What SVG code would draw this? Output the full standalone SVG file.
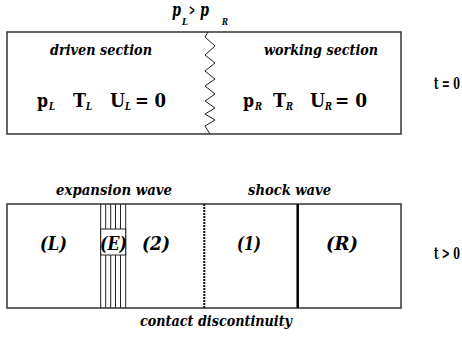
<svg xmlns="http://www.w3.org/2000/svg" width="462" height="338" viewBox="0 0 462 338">
<style>
.box{fill:#fff;stroke:#333;stroke-width:1.5}
text{font-family:'DejaVu Serif', 'Liberation Serif', 'Times New Roman', serif;font-weight:bold;fill:#000}
.i{font-style:italic}
.ln{stroke:#222;stroke-width:1}
</style>
<rect width="462" height="338" fill="#fff"/>
<g id="title">
<text class="i" x="172" y="16" font-size="18" textLength="9" lengthAdjust="spacingAndGlyphs">p</text>
<text class="i" x="182" y="25" font-size="10" textLength="6" lengthAdjust="spacingAndGlyphs">L</text>
<text x="189" y="15" font-size="14" textLength="6" lengthAdjust="spacingAndGlyphs">&gt;</text>
<text class="i" x="200" y="16" font-size="18" textLength="9" lengthAdjust="spacingAndGlyphs">p</text>
<text class="i" x="222" y="25" font-size="10" textLength="6" lengthAdjust="spacingAndGlyphs">R</text>
</g>
<g id="tube-t0">
<rect class="box" x="7" y="32" width="394" height="102"/>
<polyline fill="none" stroke="#222" stroke-width="1" points="208,32 205,37 215,46 205,55 215,63 205,71 215,79 205,86 215,94 205,101 215,108 205,114 215,120 205,126 210,134"/>
</g>
<g id="driven">
<text class="i" x="50" y="55" font-size="15" textLength="102" lengthAdjust="spacingAndGlyphs">driven section</text>
<text x="37" y="107" font-size="18" textLength="11" lengthAdjust="spacingAndGlyphs">p</text>
<text class="i" x="49" y="110" font-size="11" textLength="6" lengthAdjust="spacingAndGlyphs">L</text>
<text x="73" y="107" font-size="18" textLength="13" lengthAdjust="spacingAndGlyphs">T</text>
<text class="i" x="86" y="110" font-size="11" textLength="6" lengthAdjust="spacingAndGlyphs">L</text>
<text x="110" y="107" font-size="18" textLength="15" lengthAdjust="spacingAndGlyphs">U</text>
<text class="i" x="125" y="110" font-size="11" textLength="6" lengthAdjust="spacingAndGlyphs">L</text>
<text x="135" y="107" font-size="18" textLength="31" lengthAdjust="spacingAndGlyphs">= 0</text>
</g>
<g id="working">
<text class="i" x="264" y="55" font-size="15" textLength="114" lengthAdjust="spacingAndGlyphs">working section</text>
<text x="243" y="107" font-size="18" textLength="11" lengthAdjust="spacingAndGlyphs">p</text>
<text class="i" x="255" y="110" font-size="11" textLength="7" lengthAdjust="spacingAndGlyphs">R</text>
<text x="273" y="107" font-size="18" textLength="13" lengthAdjust="spacingAndGlyphs">T</text>
<text class="i" x="286" y="110" font-size="11" textLength="7" lengthAdjust="spacingAndGlyphs">R</text>
<text x="310" y="107" font-size="18" textLength="15" lengthAdjust="spacingAndGlyphs">U</text>
<text class="i" x="325" y="110" font-size="11" textLength="7" lengthAdjust="spacingAndGlyphs">R</text>
<text x="335" y="107" font-size="18" textLength="32" lengthAdjust="spacingAndGlyphs">= 0</text>
</g>
<g id="t0"><text x="460" y="89" font-size="17" text-anchor="end" textLength="26" lengthAdjust="spacingAndGlyphs">t = 0</text></g>
<g id="tube-t1">
<rect class="box" x="7" y="204" width="394" height="104"/>
</g>
<g id="connectors">
<g id="expansion-fan">
<line class="ln" x1="100.7" y1="204" x2="100.7" y2="308"/>
<line class="ln" x1="105.7" y1="204" x2="105.7" y2="308"/>
<line class="ln" x1="110.7" y1="204" x2="110.7" y2="308"/>
<line class="ln" x1="115.5" y1="204" x2="115.5" y2="308"/>
<line class="ln" x1="120.5" y1="204" x2="120.5" y2="308"/>
<line class="ln" x1="125.7" y1="204" x2="125.7" y2="308"/>
<rect x="100.7" y="229" width="25" height="26" fill="#fff" stroke="#222" stroke-width="1"/>
</g>
<line id="contact" x1="204.3" y1="204" x2="204.3" y2="308" stroke="#111" stroke-width="2" stroke-dasharray="2,1"/>
<line id="shock" x1="297.7" y1="204" x2="297.7" y2="308" stroke="#000" stroke-width="2.5"/>
</g>
<g id="labels">
<text class="i" x="56" y="195" font-size="15" textLength="116" lengthAdjust="spacingAndGlyphs">expansion wave</text>
<text class="i" x="248" y="195" font-size="15" textLength="83" lengthAdjust="spacingAndGlyphs">shock wave</text>
<text class="i" x="140" y="326" font-size="15" textLength="152" lengthAdjust="spacingAndGlyphs">contact discontinuity</text>
</g>
<g id="regions">
<text class="i" x="40" y="250" font-size="18" textLength="27" lengthAdjust="spacingAndGlyphs">(L)</text>
<text class="i" x="100" y="250" font-size="18" textLength="27" lengthAdjust="spacingAndGlyphs">(E)</text>
<text class="i" x="142" y="250" font-size="18" textLength="28" lengthAdjust="spacingAndGlyphs">(2)</text>
<text class="i" x="237" y="250" font-size="18" textLength="24" lengthAdjust="spacingAndGlyphs">(1)</text>
<text class="i" x="326" y="250" font-size="18" textLength="32" lengthAdjust="spacingAndGlyphs">(R)</text>
</g>
<g id="t1"><text x="460" y="259" font-size="17" text-anchor="end" textLength="26" lengthAdjust="spacingAndGlyphs">t &gt; 0</text></g>
</svg>
